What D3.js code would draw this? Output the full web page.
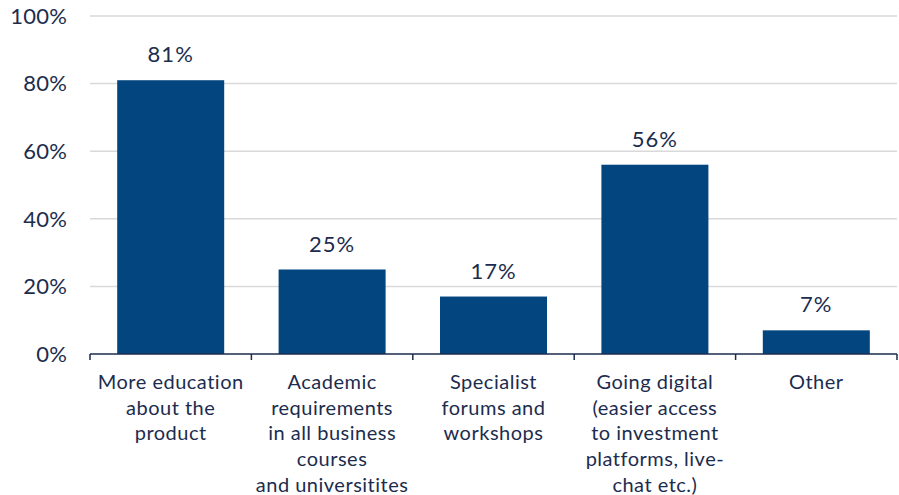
<!DOCTYPE html>
<html><head><meta charset="utf-8">
<script src="https://cdn.jsdelivr.net/npm/d3@7"></script>
<style>body{margin:0;background:#fff}svg{display:block}text{font-family:Lato,"Open Sans",sans-serif;font-weight:400;fill:#1c2c4e}</style>
</head><body><svg id="c" width="899" height="495"></svg>
<script>
const categories = [
  ["More education","about the","product"],
  ["Academic","requirements","in all business","courses","and universitites"],
  ["Specialist","forums and","workshops"],
  ["Going digital","(easier access","to investment","platforms, live-","chat etc.)"],
  ["Other"]
];
const values = [81, 25, 17, 56, 7];
const yTicks = [0, 20, 40, 60, 80, 100];

const svg = d3.select("#c");
const m = {l: 90, r: 2, t: 16, b: 141};
const W = 899, H = 495;
const x = d3.scaleBand().domain(d3.range(values.length)).range([m.l, W - m.r]).paddingInner(0.337).paddingOuter(0.1685);
const y = d3.scaleLinear().domain([0, 100]).range([H - m.b, m.t]);

// gridlines
svg.append("g").selectAll("line").data(yTicks.filter(d => d > 0)).join("line")
  .attr("x1", m.l).attr("x2", W - m.r).attr("y1", d => y(d)).attr("y2", d => y(d))
  .attr("stroke", "#d9d9d9").attr("stroke-width", 1.5);

// y labels
svg.append("g").selectAll("text").data(yTicks).join("text")
  .attr("x", 67).attr("y", d => y(d)).attr("dy", "0.35em").attr("text-anchor", "end")
  .style("font-size", "22px").style("letter-spacing", "0.2px").text(d => d + "%");

// bars
svg.append("g").selectAll("rect").data(values).join("rect")
  .attr("x", (d, i) => x(i)).attr("width", x.bandwidth())
  .attr("y", d => y(d)).attr("height", d => y(0) - y(d)).attr("fill", "#02457f");

// value labels
svg.append("g").selectAll("text").data(values).join("text")
  .attr("x", (d, i) => x(i) + x.bandwidth() / 2).attr("y", d => y(d) - 18)
  .attr("text-anchor", "middle").style("font-size", "22px").style("letter-spacing", "1px").text(d => d + "%");

// x axis
const step = x.step();
const bounds = d3.range(values.length + 1).map(i => m.l + i * step);
svg.append("line").attr("x1", m.l).attr("x2", W - m.r).attr("y1", y(0)).attr("y2", y(0))
  .attr("stroke", "#1c2c4e").attr("stroke-width", 1.5);
svg.append("g").selectAll("line").data(bounds).join("line")
  .attr("x1", d => d).attr("x2", d => d).attr("y1", y(0)).attr("y2", y(0) + 6)
  .attr("stroke", "#1c2c4e").attr("stroke-width", 1.5);

// category labels
const cl = svg.append("g").selectAll("text").data(categories).join("text")
  .attr("x", (d, i) => x(i) + x.bandwidth() / 2).attr("y", y(0) + 35)
  .attr("text-anchor", "middle").style("font-size", "20px").style("letter-spacing", "0.5px");
cl.selectAll("tspan").data(d => d).join("tspan")
  .attr("x", function() { return this.parentNode.getAttribute("x"); })
  .attr("dy", (d, i) => i === 0 ? 0 : 25.7).text(d => d);
</script></body></html>
